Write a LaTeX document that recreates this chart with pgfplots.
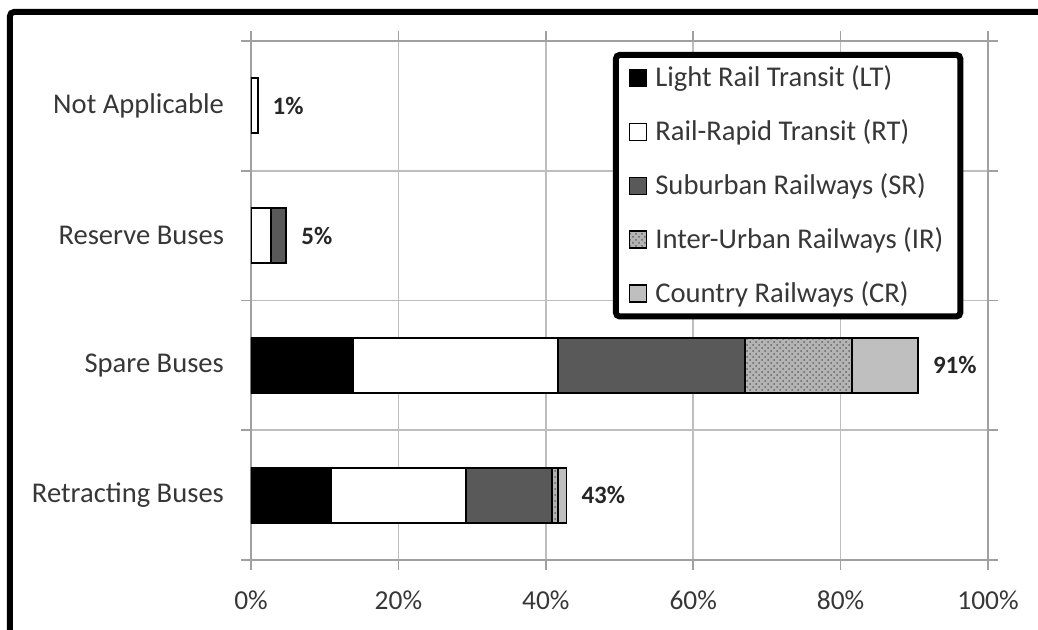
\documentclass[border=0pt]{standalone}
\usepackage{fontspec}
\setmainfont{Carlito}
\usepackage{pgfplots}
\pgfplotsset{compat=1.18}
\usetikzlibrary{patterns}

\definecolor{srgray}{RGB}{89,89,89}
\definecolor{crgray}{RGB}{191,191,191}
\definecolor{irgray}{RGB}{180,180,180}
\definecolor{gridgray}{RGB}{190,190,190}
\definecolor{axisgray}{RGB}{160,160,160}
\definecolor{textgray}{RGB}{55,55,55}

\pgfplotsset{
    panel/.style={
        at={(0pt,0pt)}, anchor=south west,
        scale only axis, width=368.5pt, height=259.5pt,
        xmin=0, xmax=100, ymin=-0.5, ymax=3.5,
    }
}

\begin{document}
\begin{tikzpicture}
\path[use as bounding box] (-125.5pt,-35pt) rectangle (393.5pt,280pt);
\draw[line width=3pt, rounded corners=2pt] (-120.5pt,-45pt) -- (-120.5pt,274pt) -- (405pt,274pt);
\begin{axis}[
    panel,
    xbar stacked, bar width=27.5pt,
    xtick={0,20,40,60,80,100},
    xticklabels={0\%,20\%,40\%,60\%,80\%,100\%},
    ytick={-0.5,0.5,1.5,2.5,3.5},
    yticklabels={,,,,},
    extra y ticks={0,1,2,3},
    extra y tick labels={Retracting Buses,Spare Buses,Reserve Buses,Not Applicable},
    extra y tick style={major tick length=0pt, grid=none},
    xmajorgrids, ymajorgrids,
    grid style={gridgray, line width=0.8pt},
    axis line style={axisgray, line width=0.8pt},
    tick style={axisgray, line width=0.8pt},
    tick align=outside, major tick length=5pt,
    ticklabel style={text=textgray},
    yticklabel style={xshift=-10pt, font=\fontsize{14.3}{16}\selectfont},
    xticklabel style={yshift=-7pt, font=\fontsize{13.7}{16}\selectfont},
    legend style={at={(0.491,0.979)}, anchor=north west,
        draw=black, line width=3pt, rounded corners=2pt,
        font=\fontsize{14.3}{16}\selectfont, text=textgray,
        row sep=11pt, inner xsep=6.5pt, inner ysep=3.5pt,
        cells={anchor=west}},
    legend image code/.code={
        \draw[#1, sharp corners, line width=0.6pt] (0pt,-4.25pt) rectangle (8.5pt,4.25pt);
        \path (10.5pt,0pt);},
    every axis plot/.append style={draw=black, line width=0.9pt},
]
\addplot[fill=black] coordinates {(10.9,0) (13.8,1) (0,2) (0,3)};
\addlegendentry{Light Rail Transit (LT)}
\addplot[fill=white] coordinates {(18.3,0) (27.9,1) (2.7,2) (0.9,3)};
\addlegendentry{Rail-Rapid Transit (RT)}
\addplot[fill=srgray] coordinates {(11.6,0) (25.3,1) (2.1,2) (0,3)};
\addlegendentry{Suburban Railways (SR)}
\addplot[preaction={fill=irgray}, pattern=crosshatch dots, pattern color=black!60] coordinates {(0.9,0) (14.6,1) (0,2) (0,3)};
\addlegendentry{Inter-Urban Railways (IR)}
\addplot[fill=crgray] coordinates {(1.1,0) (8.9,1) (0,2) (0,3)};
\addlegendentry{Country Railways (CR)}
\end{axis}
% totals, on an overlay axis that is not stacked
\begin{axis}[panel, hide axis]
\addplot[only marks, mark=none, point meta=explicit symbolic, nodes near coords,
    nodes near coords style={anchor=west, xshift=4pt, text=black!85,
        font=\fontsize{12.5}{14}\selectfont\bfseries}]
    coordinates {(42.8,0) [43\%] (90.5,1) [91\%] (4.8,2) [5\%] (0.9,3) [1\%]};
\end{axis}
\end{tikzpicture}
\end{document}
